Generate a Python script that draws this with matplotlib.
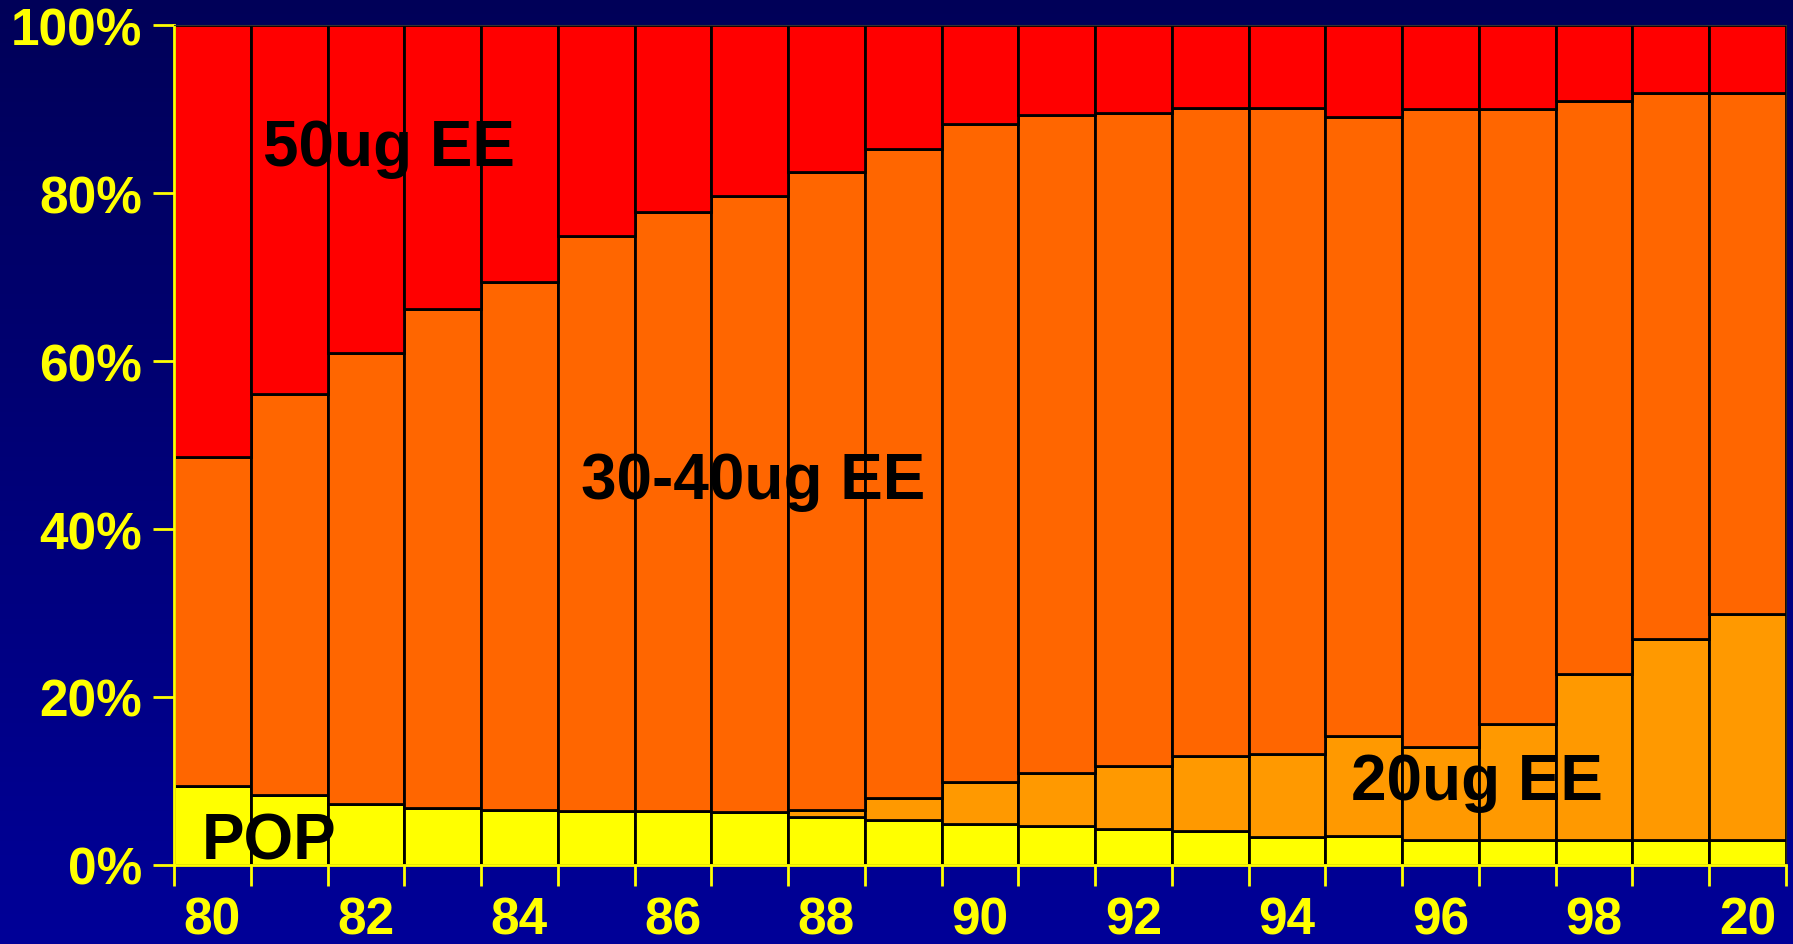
import matplotlib
matplotlib.use("Agg")
import matplotlib.pyplot as plt
import numpy as np

# ── dados (% por ano) ─────────────────────────────────────────────────────────
years = ["80", "81", "82", "83", "84", "85", "86", "87", "88", "89", "90",
         "91", "92", "93", "94", "95", "96", "97", "98", "99", "20"]
pop = [9.4, 8.3, 7.3, 6.8, 6.5, 6.4, 6.4, 6.3, 5.7, 5.4, 4.9,
       4.6, 4.3, 4.0, 3.3, 3.5, 3.0, 3.0, 3.0, 3.0, 3.0]
ee20 = [0, 0, 0, 0, 0, 0, 0, 0, 0.9, 2.6, 5.0,
        6.4, 7.5, 9.0, 9.9, 11.9, 11.0, 13.8, 19.7, 23.9, 26.9]
ee30_40 = [39.2, 47.8, 53.7, 59.4, 62.9, 68.5, 71.3, 73.3, 75.9, 77.2, 78.3,
           78.3, 77.7, 77.1, 76.9, 73.6, 76.0, 73.2, 68.3, 65.0, 62.0]
ee50 = [51.4, 43.9, 39.0, 33.8, 30.6, 25.1, 22.3, 20.4, 17.5, 14.8, 11.8,
        10.7, 10.5, 9.9, 9.9, 11.0, 10.0, 10.0, 9.0, 8.1, 8.1]

y_ticks = [0, 20, 40, 60, 80, 100]
y_labels = ["0%", "20%", "40%", "60%", "80%", "100%"]

COLORS = ["#FFFF00", "#FF9900", "#FF6600", "#FF0000"]
YELLOW = "#FFFF00"
FONT = "Liberation Sans"

fig = plt.figure(figsize=(17.93, 9.45), dpi=100)

# fundo em degradê azul
bg = fig.add_axes([0, 0, 1, 1], zorder=-10)
grad = np.linspace(0, 1, 256).reshape(-1, 1)
top = np.array([0, 0, 0x58]) / 255
bot = np.array([0, 0, 0x98]) / 255
img = top[None, None, :] * (1 - grad[:, :, None]) + bot[None, None, :] * grad[:, :, None]
bg.imshow(img, aspect="auto", extent=[0, 1, 0, 1])
bg.set_axis_off()

ax = fig.add_axes([174 / 1793, 79 / 945, 1612 / 1793, 840 / 945])
ax.patch.set_alpha(0)

x = np.arange(len(years))
bottom = np.zeros(len(years))
for vals, color in zip([pop, ee20, ee30_40, ee50], COLORS):
    ax.bar(x, vals, bottom=bottom, width=1.0, color=color,
           edgecolor="black", linewidth=2.0, zorder=2)
    bottom += np.array(vals)

ax.set_xlim(-0.5, len(years) - 0.5)
ax.set_ylim(0, 100)

ax.set_yticks(y_ticks)
ax.set_yticklabels(y_labels)
ax.set_xticks(np.arange(len(years) + 1) - 0.5)
ax.set_xticklabels([])
ax.set_xticks(x[::2], [years[i] for i in x[::2]], minor=True)

ax.tick_params(axis="both", which="major", colors=YELLOW, length=15, width=2,
               direction="out", labelsize=37, pad=8)
ax.tick_params(axis="x", which="minor", length=0, colors=YELLOW,
               labelsize=37, pad=22)
for lbl in ax.get_xticklabels(minor=True) + ax.get_yticklabels():
    lbl.set_fontfamily(FONT)
    lbl.set_fontweight("bold")
    lbl.set_color(YELLOW)

ax.spines["left"].set_color(YELLOW)
ax.spines["bottom"].set_color(YELLOW)
ax.spines["left"].set_linewidth(2)
ax.spines["bottom"].set_linewidth(2)
ax.spines["top"].set_color("#333333")
ax.spines["right"].set_color("#222222")
for s in ax.spines.values():
    s.set_zorder(5)

# rótulos das séries
txt = dict(fontsize=46, fontweight="bold", family=FONT, color="black",
           ha="center", va="center", zorder=6)
ax.text(2.3, 85.4, "50ug EE", **txt)
ax.text(7.05, 45.7, "30-40ug EE", **txt)
ax.text(16.47, 9.9, "20ug EE", **txt)
ax.text(0.74, 2.8, "POP", **txt)

fig.savefig("out.png", dpi=100)
